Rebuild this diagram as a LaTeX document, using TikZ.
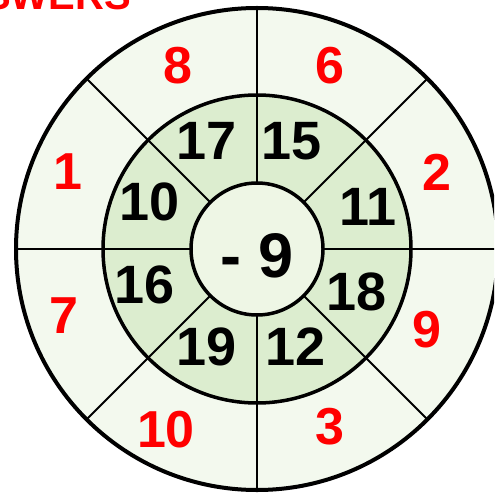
\documentclass[tikz,border=0pt]{standalone}
\usepackage{fontspec}
\setmainfont{Liberation Sans}
\usetikzlibrary{calc}
\definecolor{outerfill}{HTML}{F3F9EE}
\definecolor{midfill}{HTML}{DCEDCF}
\definecolor{innerfill}{HTML}{EEF6E5}
\definecolor{ansred}{HTML}{FF0000}
\begin{document}
\begin{tikzpicture}[x=1pt,y=-1pt,
  ans/.style={text=ansred,font=\bfseries\fontsize{52}{52}\selectfont,inner sep=0pt},
  qn/.style={text=black,font=\bfseries\fontsize{54}{54}\selectfont,inner sep=0pt},
  divider/.style={line width=1.8pt,black}]
\useasboundingbox (0,0) rectangle (494,494);
\clip (0,0) rectangle (494,494);
\coordinate (c) at (257,249);
\fill[outerfill] (c) circle (241);
\fill[midfill] (c) circle (154);
\foreach \a in {0,45,...,315}{
  \draw[divider] ($(c)+(\a:66)$) -- ($(c)+(\a:241)$);
}
\draw[line width=4pt] (c) circle (241);
\draw[line width=3.5pt] (c) circle (154);
\draw[line width=3.5pt,fill=innerfill] (c) circle (66);
\node[qn,font=\bfseries\fontsize{63}{63}\selectfont] (ctr) at (257,256) {- 9};
\node[ans] (a8) at (178,66) {8};
\node[ans] (a6) at (330,66) {6};
\node[ans] (a2) at (437,172) {2};
\node[ans] (a9) at (427,330) {9};
\node[ans] (a3) at (330,427) {3};
\node[ans] (a10) at (166,430) {10};
\node[ans] (a7) at (64,316) {7};
\node[ans] (a1) at (68,172) {1};
\node[qn] (q17) at (207,141) {17};
\node[qn] (q15) at (292,141) {15};
\node[qn] (q11) at (368,207) {11};
\node[qn] (q18) at (357,292) {18};
\node[qn] (q12) at (296,347) {12};
\node[qn] (q19) at (207,347) {19};
\node[qn] (q16) at (145,285) {16};
\node[qn] (q10) at (150,202) {10};
\node[text=ansred,font=\bfseries\fontsize{40}{40}\selectfont,inner sep=0pt,anchor=base east] (title) at (131,10) {ANSWERS};
\end{tikzpicture}
\end{document}
